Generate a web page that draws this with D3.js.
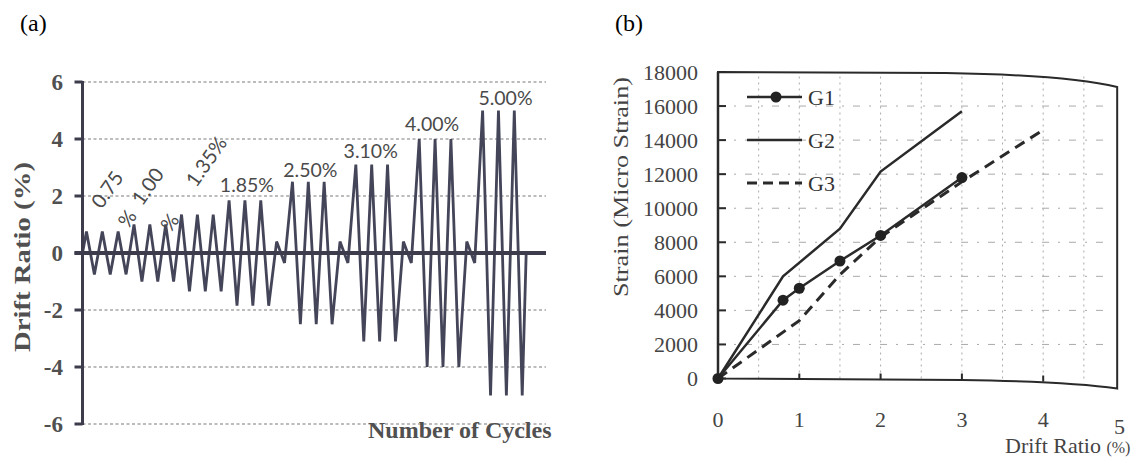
<!DOCTYPE html>
<html>
<head>
<meta charset="utf-8">
<script src="https://cdn.jsdelivr.net/npm/d3@7"></script>
<style>
  body { margin: 0; background: #fff; }
  svg { display: block; }
</style>
</head>
<body>
<div id="chart"></div>
<script>
// (a) loading protocol: drift ratio peak / trough of every cycle
const cyclePeaks = [0.75, 0.75, 0.75, 1.00, 1.00, 1.00, 1.35, 1.35, 1.35, 1.85, 1.85, 1.85,
    0.40, 2.50, 2.50, 2.50, 0.40, 3.10, 3.10, 3.10, 0.40, 4.00, 4.00, 4.00, 0.40, 5.00, 5.00, 5.00];
const cycleTroughs = [-0.75, -0.75, -0.75, -1.00, -1.00, -1.00, -1.35, -1.35, -1.35, -1.85, -1.85, -1.85,
    -0.35, -2.50, -2.50, -2.50, -0.35, -3.10, -3.10, -3.10, -0.35, -4.00, -4.00, -4.00, -0.35, -5.00, -5.00, -5.00];
const driftTicks = [-6, -4, -2, 0, 2, 4, 6];
const levelLabels = ["0.75", "1.00", "1.35%", "1.85%", "2.50%", "3.10%", "4.00%", "5.00%"];
const levelFirstCycle = [0, 3, 6, 9, 13, 17, 21, 25];

// (b) strain vs drift ratio
const driftG1 = [0, 0.8, 1.0, 1.5, 2.0, 3.0];
const strainG1 = [0, 4600, 5300, 6900, 8400, 11800];
const driftG2 = [0, 0.8, 1.5, 2.0, 3.0];
const strainG2 = [0, 6000, 8800, 12150, 15700];
const driftG3 = [0, 1.0, 1.5, 2.0, 3.0, 4.0];
const strainG3 = [0, 3400, 6100, 8300, 11550, 14600];
const strainTicks = [0, 2000, 4000, 6000, 8000, 10000, 12000, 14000, 16000, 18000];
const ratioTicks = [0, 1, 2, 3, 4, 5];
const seriesNames = ["G1", "G2", "G3"];

const svg = d3.select("#chart").append("svg")
    .attr("width", 1136)
    .attr("height", 468);

const serif = "'Liberation Serif', 'Times New Roman', serif";

svg.append("text").attr("x", 20).attr("y", 31)
    .attr("font-family", serif).attr("font-size", 24).text("(a)");
svg.append("text").attr("x", 615).attr("y", 31)
    .attr("font-family", serif).attr("font-size", 24).text("(b)");

// ---------- panel (a) ----------
const xa = d3.scaleLinear().domain([0, 29.25]).range([82.5, 546]);
const ya = d3.scaleLinear().domain([-6, 6]).range([424, 82]);
const ink = "#45455a";

const ga = svg.append("g");

ga.selectAll("line.grid")
    .data(driftTicks.filter(d => d !== 0))
    .enter().append("line")
    .attr("class", "grid")
    .attr("x1", xa(0)).attr("x2", xa(29.25))
    .attr("y1", d => ya(d)).attr("y2", d => ya(d))
    .attr("stroke", "#7a7a7a").attr("stroke-width", 1.2)
    .attr("stroke-dasharray", "3,2.5");

const pts = [[0, 0]];
cyclePeaks.forEach((p, i) => {
    pts.push([i + 0.25, p]);
    pts.push([i + 0.75, cycleTroughs[i]]);
});
pts.push([cyclePeaks.length, 0]);

ga.append("path")
    .datum(pts)
    .attr("fill", "none")
    .attr("stroke", ink)
    .attr("stroke-width", 2.8)
    .attr("stroke-linejoin", "miter")
    .attr("d", d3.line().x(d => xa(d[0])).y(d => ya(d[1])));

// zero line and axis
ga.append("line")
    .attr("x1", xa(0) - 8).attr("x2", xa(29.25))
    .attr("y1", ya(0)).attr("y2", ya(0))
    .attr("stroke", "#3c3c4c").attr("stroke-width", 4);
ga.append("line")
    .attr("x1", xa(0)).attr("x2", xa(0))
    .attr("y1", ya(6) - 1).attr("y2", ya(-6) + 1)
    .attr("stroke", "#3c3c4c").attr("stroke-width", 3);
ga.selectAll("line.tick")
    .data(driftTicks)
    .enter().append("line")
    .attr("class", "tick")
    .attr("x1", xa(0) - 8).attr("x2", xa(0))
    .attr("y1", d => ya(d)).attr("y2", d => ya(d))
    .attr("stroke", "#3c3c4c").attr("stroke-width", 3);
ga.selectAll("text.tl")
    .data(driftTicks)
    .enter().append("text")
    .attr("class", "tl")
    .attr("x", 63).attr("y", d => ya(d))
    .attr("dy", "0.35em")
    .attr("text-anchor", "end")
    .attr("font-family", serif).attr("font-weight", "bold")
    .attr("font-size", 23).attr("fill", "#505050")
    .text(d => d);

ga.append("text")
    .attr("transform", "translate(30,257) rotate(-90)")
    .attr("text-anchor", "middle")
    .attr("font-family", serif).attr("font-weight", "bold")
    .attr("font-size", 24).attr("fill", "#505050")
    .attr("textLength", 190).attr("lengthAdjust", "spacingAndGlyphs")
    .text("Drift Ratio (%)");

ga.append("text")
    .attr("x", 368).attr("y", 438)
    .attr("font-family", serif).attr("font-weight", "bold")
    .attr("font-size", 24).attr("fill", "#505050")
    .text("Number of Cycles");

// amplitude labels
const labelFont = "Lato, 'Open Sans', sans-serif";
const labelLayout = [
    {dx: 5, dy: -42, rot: -55, pct: {dx: 25, dy: -13}},
    {dx: -2, dy: -38, rot: -55, pct: {dx: 20, dy: -2}},
    {dx: 9, dy: -53, rot: -55},
    {dx: 2, dy: -8}, {dx: 2, dy: -5}, {dx: -1, dy: -7}, {dx: -3, dy: -8}, {dx: 7, dy: -6}
];
levelLabels.forEach((t, i) => {
    const c = levelFirstCycle[i];
    const cx = xa(c + 1.25), py = ya(cyclePeaks[c]);
    const L = labelLayout[i];
    if (L.rot) {
        ga.append("text")
            .attr("transform", `translate(${cx + L.dx},${py + L.dy}) rotate(${L.rot})`)
            .attr("text-anchor", "middle").attr("dy", "0.35em")
            .attr("font-family", labelFont).attr("font-size", 20).attr("fill", "#4a4a4a")
            .text(t);
        if (L.pct) {
            ga.append("text")
                .attr("transform", `translate(${cx + L.pct.dx},${py + L.pct.dy}) rotate(${L.rot})`)
                .attr("text-anchor", "middle").attr("dy", "0.35em")
                .attr("font-family", labelFont).attr("font-size", 20).attr("fill", "#4a4a4a")
                .text("%");
        }
    } else {
        ga.append("text")
            .attr("x", cx + L.dx).attr("y", py + L.dy)
            .attr("text-anchor", "middle")
            .attr("font-family", labelFont).attr("font-size", 19.5).attr("fill", "#4a4a4a")
            .text(t);
    }
});

// ---------- panel (b) ----------
const xb = d3.scaleLinear().domain([0, 5]).range([718, 1124.5]);
const yb = d3.scaleLinear().domain([0, 18000]).range([378.5, 72]);
const gb = svg.append("g");
const frameRight = xb(4.91);

gb.selectAll("line.hg")
    .data(strainTicks.filter(d => d > 0 && d < 18000))
    .enter().append("line")
    .attr("class", "hg")
    .attr("x1", xb(0)).attr("x2", xb(4.8))
    .attr("y1", d => yb(d)).attr("y2", d => yb(d))
    .attr("stroke", "#aaa").attr("stroke-width", 1)
    .attr("stroke-dasharray", "7,9,2,9");
gb.selectAll("line.vg")
    .data(d3.range(1, 10).map(d => d / 2))
    .enter().append("line")
    .attr("class", "vg")
    .attr("x1", d => xb(d)).attr("x2", d => xb(d))
    .attr("y1", yb(0)).attr("y2", yb(18000) + 3)
    .attr("stroke", "#aaa").attr("stroke-width", 1)
    .attr("stroke-dasharray", "2,4");

// frame (slightly curved like the scanned page)
const fp = d3.path();
fp.moveTo(xb(0), yb(18000));
fp.lineTo(xb(2.8), yb(18000) + 1);
fp.quadraticCurveTo(xb(4.3), yb(18000) + 3, frameRight, yb(18000) + 15);
fp.lineTo(frameRight, yb(0) + 10);
fp.quadraticCurveTo(xb(4.3), yb(0) + 3, xb(3), yb(0) + 1.5);
fp.lineTo(xb(0), yb(0));
fp.closePath();
gb.append("path").attr("d", fp.toString())
    .attr("fill", "none").attr("stroke", "#2a2a2a").attr("stroke-width", 2);
gb.append("line")
    .attr("x1", xb(0)).attr("x2", xb(0)).attr("y1", yb(18000)).attr("y2", yb(0))
    .attr("stroke", "#2a2a2a").attr("stroke-width", 2.5);

gb.selectAll("line.yt")
    .data(strainTicks)
    .enter().append("line")
    .attr("class", "yt")
    .attr("x1", xb(0)).attr("x2", xb(0) + 8)
    .attr("y1", d => yb(d)).attr("y2", d => yb(d))
    .attr("stroke", "#2a2a2a").attr("stroke-width", 2);
gb.selectAll("line.xt")
    .data(ratioTicks.filter(d => d > 0 && d < 5))
    .enter().append("line")
    .attr("class", "xt")
    .attr("x1", d => xb(d)).attr("x2", d => xb(d))
    .attr("y1", d => yb(0) + (d > 3 ? 3 : 1)).attr("y2", d => yb(0) - 6 + (d > 3 ? 3 : 1))
    .attr("stroke", "#2a2a2a").attr("stroke-width", 2);

gb.selectAll("text.yl")
    .data(strainTicks)
    .enter().append("text")
    .attr("class", "yl")
    .attr("x", 698).attr("y", d => yb(d)).attr("dy", "0.35em")
    .attr("text-anchor", "end")
    .attr("font-family", serif).attr("font-size", 22).attr("fill", "#444")
    .text(d => d);
gb.selectAll("text.xl")
    .data(ratioTicks)
    .enter().append("text")
    .attr("class", "xl")
    .attr("x", d => xb(d) - (d === 5 ? 5 : 0)).attr("y", d => d === 5 ? 434 : 427)
    .attr("text-anchor", "middle")
    .attr("font-family", serif).attr("font-size", 22).attr("fill", "#444")
    .text(d => d);

gb.append("text")
    .attr("transform", "translate(628,187) rotate(-90)")
    .attr("text-anchor", "middle")
    .attr("font-family", serif).attr("font-size", 22).attr("fill", "#444")
    .attr("textLength", 220).attr("lengthAdjust", "spacingAndGlyphs")
    .text("Strain (Micro Strain)");

const xTitle = gb.append("text")
    .attr("x", 1005).attr("y", 453)
    .attr("font-family", serif).attr("font-size", 22).attr("fill", "#444");
xTitle.append("tspan").text("Drift Ratio ");
xTitle.append("tspan").attr("font-size", 16).text("(%)");

const line = d3.line().x(d => xb(d[0])).y(d => yb(d[1]));
const g2pts = d3.zip(driftG2, strainG2);
const g3pts = d3.zip(driftG3, strainG3);
const g1pts = d3.zip(driftG1, strainG1);

gb.append("path").datum(g3pts).attr("d", line)
    .attr("fill", "none").attr("stroke", "#2a2a2a").attr("stroke-width", 3)
    .attr("stroke-dasharray", "11,7");
gb.append("path").datum(g2pts).attr("d", line)
    .attr("fill", "none").attr("stroke", "#2a2a2a").attr("stroke-width", 2.5);
gb.append("path").datum(g1pts).attr("d", line)
    .attr("fill", "none").attr("stroke", "#2a2a2a").attr("stroke-width", 2.5);
gb.selectAll("circle.g1")
    .data(g1pts)
    .enter().append("circle")
    .attr("class", "g1")
    .attr("cx", d => xb(d[0])).attr("cy", d => yb(d[1]))
    .attr("r", 5.5).attr("fill", "#222");

// legend
const legY = [97, 140, 183];
const leg = gb.selectAll("g.leg")
    .data(seriesNames)
    .enter().append("g")
    .attr("class", "leg")
    .attr("transform", (d, i) => `translate(747,${legY[i]})`);
leg.append("line")
    .attr("x1", 0).attr("x2", 55).attr("y1", 0).attr("y2", 0)
    .attr("stroke", "#2a2a2a")
    .attr("stroke-width", (d, i) => i === 2 ? 3 : 2.5)
    .attr("stroke-dasharray", (d, i) => i === 2 ? "10,6" : null);
leg.filter((d, i) => i === 0).append("circle")
    .attr("cx", 29).attr("cy", 0).attr("r", 5.5).attr("fill", "#222");
leg.append("text")
    .attr("x", 61).attr("y", 0).attr("dy", "0.35em")
    .attr("font-family", serif).attr("font-size", 22).attr("fill", "#333")
    .text(d => d);
</script>
</body>
</html>
